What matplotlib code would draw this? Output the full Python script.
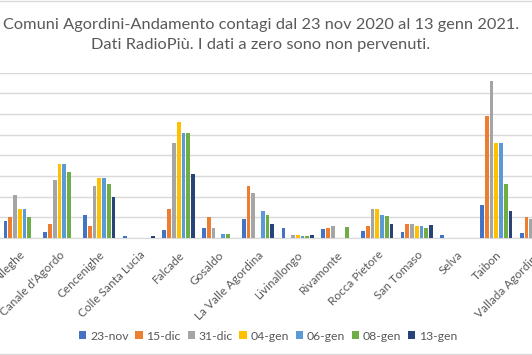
import matplotlib
matplotlib.use("Agg")
import matplotlib.pyplot as plt
import numpy as np
from matplotlib.lines import Line2D

plt.rcParams["font.family"] = ["Lato", "DejaVu Sans"]
plt.rcParams["text.color"] = "#595959"

# ----- Data -----
comuni = [
    "Alleghe", "Canale d'Agordo", "Cencenighe", "Colle Santa Lucia", "Falcade",
    "Gosaldo", "La Valle Agordina", "Livinallongo", "Rivamonte", "Rocca Pietore",
    "San Tomaso", "Selva", "Taibon", "Vallada Agordina",
]
date_labels = ["23-nov", "15-dic", "31-dic", "04-gen", "06-gen", "08-gen", "13-gen"]

nov23 = [8, 3, 11, 1, 4, 5, 9, 5, 4.5, 3.5, 3, 1.5, 16, 2.5]
dic15 = [10, 7, 6, 0, 14, 10, 25, 0, 5, 6, 7, 0, 59, 10]
dic31 = [21, 28, 25, 0, 46, 5, 22, 1.5, 6, 14, 7, 0, 76, 9]
gen04 = [14, 36, 29, 0, 56, 0, 0, 1.5, 0, 14, 6, 0, 46, 9]
gen06 = [14, 36, 29, 0, 51, 2, 13, 1, 0, 11, 6, 0, 46, 8]
gen08 = [10, 32, 26, 0, 51, 2, 11, 1, 5.5, 10.5, 5, 0, 26, 7]
gen13 = [0, 0, 20, 1, 31, 0, 7, 1.5, 0, 7, 6.5, 0, 13, 6]

series = [nov23, dic15, dic31, gen04, gen06, gen08, gen13]
colors = ["#4472C4", "#ED7D31", "#A5A5A5", "#FFC000", "#5B9BD5", "#70AD47", "#264478"]

W, H = 532, 355


def main():
    fig = plt.figure(figsize=(W / 100, H / 100), dpi=100)
    # plot area is wider than the picture: the last category is cut off
    ax = fig.add_axes([0.0, (H - 238) / H, 14 * 39.7 / W, (238 - 72.7) / H])

    x = np.arange(len(comuni))
    pitch = 0.12
    width = 0.095
    for i, (vals, col, lab) in enumerate(zip(series, colors, date_labels)):
        ax.bar(x + (i - 3) * pitch, vals, width, color=col, label=lab, zorder=3)

    ax.set_xlim(-0.5, len(comuni) - 0.5)
    ax.set_ylim(0, 80)
    ax.set_yticks(np.arange(0, 81, 10))
    ax.set_yticklabels([])
    ax.tick_params(axis="y", length=0)
    ax.grid(axis="y", color="#d9d9d9", linewidth=1.0, zorder=0)

    ax.set_xticks(x)
    ax.set_xticklabels(comuni, rotation=45, ha="right", rotation_mode="anchor",
                       fontsize=8.5, color="#595959")
    ax.tick_params(axis="x", length=0, pad=8)

    for s in ["left", "right", "top"]:
        ax.spines[s].set_visible(False)
    ax.spines["bottom"].set_color("#d9d9d9")

    fig.text(261 / W, 1 - 35 / H,
             "Comuni Agordini-Andamento contagi dal 23 nov 2020 al 13 genn 2021.\n"
             "Dati RadioPiù. I dati a zero sono non pervenuti.",
             ha="center", va="center", fontsize=11.8, color="#595959", linespacing=1.5)

    fig.legend(loc="center", bbox_to_anchor=(268 / W, 1 - 336 / H), ncol=7,
               frameon=False, fontsize=8.8, handlelength=0.6, handleheight=0.6,
               handletextpad=0.3, columnspacing=0.55, labelcolor="#595959")

    # chart area border lines (top and bottom of the crop)
    for yp in [0.5, H - 1.5]:
        fig.add_artist(Line2D([0, 1], [1 - yp / H, 1 - yp / H], transform=fig.transFigure,
                              color="#d9d9d9", linewidth=1.0))

    fig.savefig("out.png", dpi=100)


if __name__ == "__main__":
    main()
